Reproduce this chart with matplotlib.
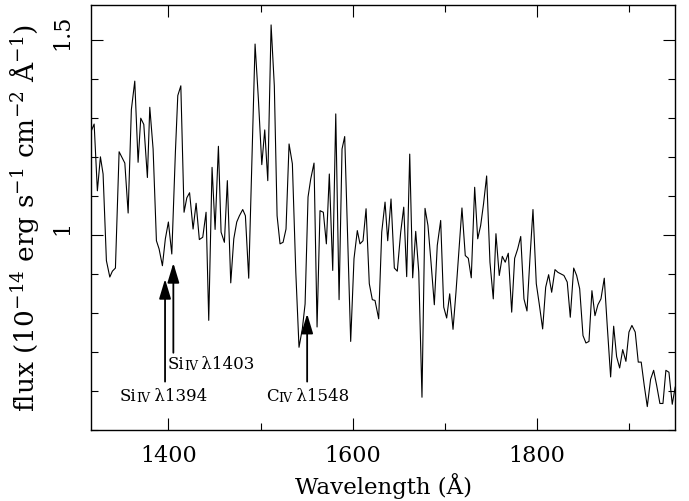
import numpy as np
import matplotlib
matplotlib.use("Agg")
import matplotlib.pyplot as plt
from matplotlib.ticker import MultipleLocator, FixedLocator, FormatStrFormatter
from matplotlib.transforms import ScaledTranslation

plt.rcParams["font.family"] = "serif"
plt.rcParams["font.serif"] = ["DejaVu Serif"]
plt.rcParams["mathtext.fontset"] = "dejavuserif"

# spectrum (wavelength in A, flux in 1e-14 cgs)
wave = [1316.4, 1319.4, 1322.9, 1326.2, 1329.1, 1332.7, 1336.4, 1339.2, 1342.5, 1346.5,
        1352.7, 1356.3, 1359.8, 1363.5, 1367.1, 1370.0, 1373.3, 1377.2, 1379.8, 1383.4,
        1387.0, 1389.9, 1393.5, 1396.7, 1400.0, 1403.7, 1407.6, 1410.2, 1413.5, 1417.0,
        1420.0, 1423.0, 1426.8, 1430.1, 1433.6, 1437.3, 1440.9, 1443.8, 1447.4, 1450.7,
        1454.3, 1457.2, 1460.8, 1464.0, 1467.7, 1471.0, 1474.2, 1477.1, 1480.7, 1483.6,
        1487.2, 1494.1, 1497.7, 1501.4, 1504.6, 1507.9, 1511.5, 1515.0, 1518.0, 1521.2,
        1524.5, 1527.7, 1531.0, 1534.6, 1538.3, 1541.8, 1545.4, 1548.4, 1551.6, 1554.5,
        1558.1, 1561.4, 1564.6, 1568.2, 1571.5, 1574.7, 1578.4, 1581.7, 1585.3, 1588.5,
        1591.4, 1597.9, 1601.5, 1605.1, 1608.0, 1611.3, 1614.6, 1618.1, 1621.4, 1624.3,
        1628.3, 1631.6, 1635.2, 1638.1, 1641.7, 1645.3, 1648.5, 1652.2, 1655.5, 1658.7,
        1662.0, 1665.2, 1668.5, 1671.8, 1675.3, 1678.6, 1681.8, 1685.1, 1688.7, 1691.9,
        1695.6, 1698.9, 1702.1, 1705.4, 1709.0, 1712.2, 1715.5, 1718.7, 1722.3, 1725.6,
        1728.8, 1732.5, 1735.8, 1739.0, 1742.1, 1745.5, 1749.1, 1752.7, 1755.6, 1759.2,
        1762.5, 1765.7, 1769.0, 1772.7, 1775.9, 1779.2, 1782.5, 1786.0, 1789.3, 1792.5,
        1795.8, 1799.4, 1802.6, 1806.3, 1809.6, 1812.8, 1816.1, 1819.7, 1822.9, 1826.2,
        1829.4, 1833.0, 1836.3, 1840.0, 1843.2, 1846.5, 1850.1, 1853.3, 1856.6, 1859.8,
        1863.1, 1866.3, 1869.6, 1873.2, 1876.4, 1880.1, 1883.4, 1886.6, 1889.9, 1893.2,
        1896.7, 1900.0, 1903.2, 1906.8, 1910.1, 1913.3, 1916.6, 1919.9, 1923.5, 1926.8,
        1930.1, 1933.6, 1936.9, 1940.1, 1943.4, 1947.0, 1950.2]
flux = [1.267, 1.284, 1.113, 1.200, 1.156, 0.934, 0.892, 0.907, 0.915, 1.213,
        1.184, 1.056, 1.321, 1.394, 1.186, 1.299, 1.283, 1.147, 1.327, 1.220,
        0.985, 0.964, 0.921, 0.990, 1.033, 0.951, 1.212, 1.357, 1.382, 1.058,
        1.095, 1.108, 1.015, 1.081, 0.988, 0.994, 1.058, 0.781, 1.173, 1.014,
        1.227, 1.007, 0.981, 1.139, 0.877, 0.990, 1.033, 1.049, 1.065, 1.049,
        0.889, 1.489, 1.348, 1.180, 1.269, 1.139, 1.538, 1.382, 1.049, 0.977,
        0.981, 1.015, 1.233, 1.182, 0.905, 0.712, 0.759, 0.823, 1.097, 1.143,
        1.184, 0.764, 1.062, 1.058, 0.977, 1.156, 0.909, 1.310, 0.834, 1.220,
        1.252, 0.727, 0.939, 1.011, 0.977, 0.985, 1.067, 0.875, 0.834, 0.832,
        0.785, 1.007, 1.084, 0.985, 1.092, 0.915, 0.907, 1.007, 1.071, 0.893,
        1.207, 0.890, 1.009, 0.905, 0.584, 1.068, 1.024, 0.930, 0.821, 0.973,
        1.037, 0.815, 0.787, 0.849, 0.758, 0.853, 0.964, 1.069, 0.947, 0.940,
        0.890, 1.122, 0.990, 1.024, 1.079, 1.151, 0.930, 0.836, 1.003, 0.896,
        0.945, 0.930, 0.953, 0.802, 0.940, 0.964, 0.996, 0.836, 0.805, 0.939,
        1.065, 0.875, 0.823, 0.759, 0.866, 0.898, 0.853, 0.911, 0.904, 0.900,
        0.896, 0.879, 0.789, 0.915, 0.896, 0.862, 0.742, 0.723, 0.727, 0.857,
        0.793, 0.821, 0.836, 0.889, 0.768, 0.636, 0.766, 0.688, 0.659, 0.706,
        0.676, 0.751, 0.768, 0.751, 0.674, 0.674, 0.614, 0.560, 0.630, 0.653,
        0.614, 0.568, 0.568, 0.653, 0.648, 0.566, 0.610]

# absorption lines marked with arrows
ions = ["Si", "Si", "C"]
stages = ["IV", "IV", "IV"]
rest_wave = [1394, 1403, 1548]
z_shift = 0.0017
arrow_tail = [0.624, 0.698, 0.624]
arrow_tip = [0.887, 0.928, 0.798]
label_x = [1347.6, 1399.4, 1506.0]
label_y = [0.578, 0.660, 0.578]

fig = plt.figure(figsize=(6.89, 5.02), dpi=100)
ax = fig.add_axes([0.1321, 0.1414, 0.8476, 0.8466])

ax.plot(wave, flux, color="black", lw=0.8)

for ion, st, lam, t0, t1, lx, ly in zip(ions, stages, rest_wave, arrow_tail,
                                        arrow_tip, label_x, label_y):
    xo = lam * (1 + z_shift)
    ax.annotate("", xy=(xo, t1), xytext=(xo, t0),
                arrowprops=dict(arrowstyle="-|>,head_length=0.6,head_width=0.18",
                                color="black", lw=1.3, mutation_scale=20,
                                shrinkA=0, shrinkB=0))
    t = ax.text(lx, ly, ion, fontsize=12, va="baseline")
    t2 = ax.annotate(st, xy=(1, 0), xycoords=t, fontsize=9, va="bottom")
    ax.annotate("\u2009\u03bb%d" % lam, xy=(1, 0), xycoords=t2, fontsize=12,
                va="bottom")

ax.set_xlim(1316, 1950)
ax.set_ylim(0.5, 1.589)

ax.xaxis.set_major_locator(MultipleLocator(200))
ax.xaxis.set_minor_locator(MultipleLocator(100))
ax.yaxis.set_major_locator(FixedLocator([1.0, 1.5]))
ax.yaxis.set_minor_locator(MultipleLocator(0.1))
ax.yaxis.set_major_formatter(FormatStrFormatter("%g"))

ax.tick_params(which="both", direction="in", top=True, right=True, width=0.8)
ax.tick_params(which="major", length=8.6)
ax.tick_params(which="minor", length=5)
ax.tick_params(axis="x", labelsize=16, pad=10)
ax.tick_params(axis="y", labelsize=16, pad=13, labelrotation=90)
shift_up = ScaledTranslation(0, 0.08, fig.dpi_scale_trans)
for lab in ax.get_yticklabels():
    lab.set_va("center")
    lab.set_transform(lab.get_transform() + shift_up)
for s in ax.spines.values():
    s.set_linewidth(1.0)

ax.set_xlabel("Wavelength (Å)", fontsize=16.5)
ax.set_ylabel(r"flux (10$^{-14}$ erg s$^{-1}$ cm$^{-2}$ Å$^{-1}$)", fontsize=19)
ax.xaxis.set_label_coords(0.5, -0.100)
ax.yaxis.set_label_coords(-0.085, 0.50)

fig.savefig("out.png", dpi=100)
